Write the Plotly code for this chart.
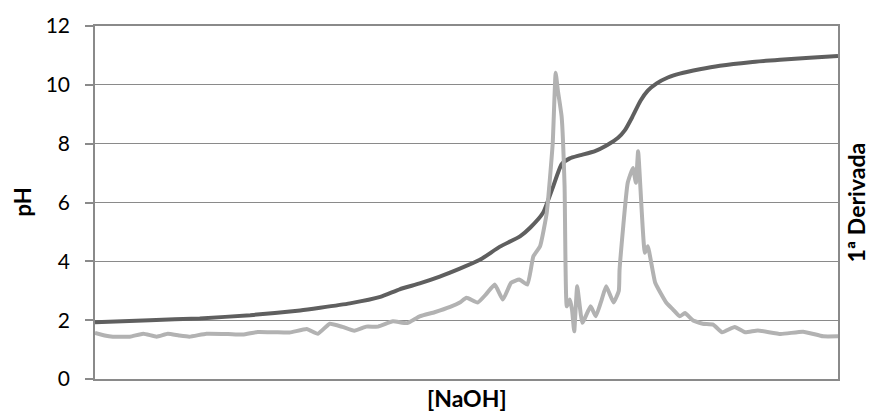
import plotly.graph_objects as go

# Titration curve: pH vs [NaOH] (relative volume, 0-100)
naoh_ph = [0, 7.4, 14.1, 20.9, 27.6, 30.3, 34.3, 38.4, 41.0, 43.7, 46.4, 49.1, 51.8,
           54.5, 57.2, 58.6, 60.3, 61.6, 62.8, 63.9, 65.2, 67.3, 68.9, 70.4, 71.3,
           72.3, 73.4, 74.4, 75.6, 77.1, 78.7, 81.4, 84.1, 88.2, 92.2, 96.2, 100]
ph = [1.93, 2.0, 2.06, 2.17, 2.33, 2.42, 2.57, 2.79, 3.05, 3.25, 3.48, 3.75, 4.05,
      4.5, 4.85, 5.15, 5.65, 6.5, 7.3, 7.5, 7.6, 7.75, 7.95, 8.2, 8.45,
      8.9, 9.45, 9.8, 10.05, 10.25, 10.38, 10.53, 10.65, 10.77, 10.85, 10.92, 10.98]

# First derivative (secondary axis, same visual scale)
naoh_d = [0, 1.3, 2.4, 4.7, 6.5, 8.3, 9.8, 11.3, 12.7, 15.0, 17.9, 19.9, 21.9,
          24.2, 26.2, 28.5, 30.0, 31.6, 33.3, 34.9, 36.5, 38.1, 40.1, 42.0,
          43.7, 45.7, 47.8, 49.1, 50.0, 51.5, 52.7, 53.8, 54.9, 56.0, 57.1,
          58.2, 59.0, 59.9, 60.8, 61.6, 62.0, 62.3, 62.8, 63.2, 63.5, 63.9,
          64.2, 64.5, 64.9, 65.6, 66.7, 67.4, 68.2, 68.8, 69.8, 70.5, 70.6,
          71.7, 72.4, 72.8, 73.1, 74.0, 74.4, 75.4, 76.9, 77.8, 78.7, 79.4,
          80.5, 81.8, 83.2, 84.4, 86.1, 87.5, 89.2, 92.3, 95.3, 98.0, 100]
deriv = [1.57, 1.48, 1.44, 1.44, 1.54, 1.44, 1.54, 1.48, 1.44, 1.54, 1.53, 1.51, 1.6,
         1.59, 1.58, 1.7, 1.54, 1.88, 1.77, 1.64, 1.78, 1.78, 1.96, 1.9,
         2.13, 2.27, 2.45, 2.6, 2.76, 2.6, 2.9, 3.21, 2.7, 3.27, 3.38,
         3.21, 4.17, 4.51, 5.65, 8.0, 10.41, 9.8, 8.93, 6.55, 2.47, 2.7,
         2.36, 1.62, 3.15, 1.91, 2.47, 2.13, 2.7, 3.15, 2.6, 3.0, 3.72,
         6.67, 7.17, 6.67, 7.74, 4.29, 4.51, 3.27, 2.59, 2.36, 2.13, 2.24,
         1.99, 1.88, 1.85, 1.59, 1.77, 1.59, 1.65, 1.53, 1.61, 1.45, 1.45]

y_ticks = [0, 2, 4, 6, 8, 10, 12]
x_title = "[NaOH]"
y_title = "pH"
y2_title = "1ª Derivada"

FONT = "Lato, Open Sans, sans-serif"
GRID = "#8a8a8a"

fig = go.Figure()
fig.add_trace(go.Scatter(x=naoh_ph, y=ph, mode="lines", name=y_title,
                         line=dict(color="#5f5f5f", width=4, shape="spline", smoothing=0.5),
                         yaxis="y"))
fig.add_trace(go.Scatter(x=naoh_d, y=deriv, mode="lines", name=y2_title,
                         line=dict(color="#b2b2b2", width=4, shape="spline", smoothing=0.4),
                         yaxis="y2"))

fig.update_layout(
    width=869, height=414,
    margin=dict(l=95, r=31, t=26, b=35, autoexpand=False),
    paper_bgcolor="white", plot_bgcolor="white",
    showlegend=False,
    font=dict(family=FONT, color="#000000"),
    xaxis=dict(range=[0, 100], showticklabels=False, ticks="", showgrid=False, automargin=False,
               zeroline=False, showline=True, linecolor=GRID, linewidth=1.5, mirror=True),
    yaxis=dict(range=[0, 12], tickvals=y_ticks, ticks="outside", ticklen=8, automargin=False,
               tickcolor=GRID, tickwidth=1.5, tickfont=dict(size=21, family=FONT),
               ticklabelstandoff=11,
               showgrid=True, gridcolor=GRID, gridwidth=1, zeroline=False,
               showline=True, linecolor=GRID, linewidth=1.5, mirror=True),
    yaxis2=dict(range=[0, 12], overlaying="y", side="right", showticklabels=False,
                automargin=False, ticks="", showgrid=False, zeroline=False, showline=False),
    annotations=[
        dict(text=f"<b>{x_title}</b>", xref="paper", yref="paper", x=0.5, y=0,
             xanchor="center", yanchor="middle", yshift=-19, showarrow=False,
             font=dict(size=23, family=FONT)),
        dict(text=f"<b>{y_title}</b>", xref="paper", yref="paper", x=0, y=0.5,
             xanchor="center", yanchor="middle", xshift=-73, textangle=-90, showarrow=False,
             font=dict(size=22, family=FONT)),
        dict(text=f"<b>{y2_title}</b>", xref="paper", yref="paper", x=1, y=0.5,
             xanchor="center", yanchor="middle", xshift=17, textangle=-90, showarrow=False,
             font=dict(size=23, family=FONT)),
    ],
)

fig.write_html("out.html")
